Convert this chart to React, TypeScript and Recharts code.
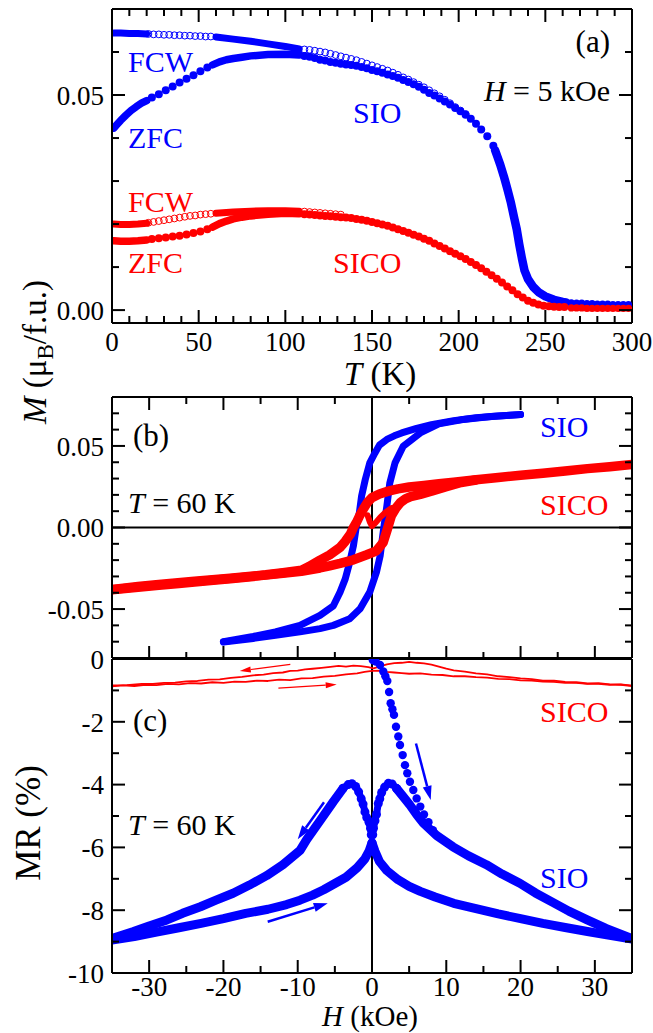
import React from 'react';
import { ComposedChart, Scatter, Line, XAxis, YAxis, ReferenceLine } from 'recharts';

const FONT = "'Liberation Serif', 'Times New Roman', 'DejaVu Serif', serif";
const BLUE = '#0000ff';
const RED = '#ff0000';
type P = [number, number];
const xy = (a: P[]) => a.map(([x, y]) => ({ x, y }));

// ---------- Panel (a): M vs T ----------
const aXTicks = [0,10,20,30,40,50,60,70,80,90,100,110,120,130,140,150,160,170,180,190,200,210,220,230,240,250,260,270,280,290,300];
const aXMajor = [0,50,100,150,200,250,300];
const aYTicks = [0,0.01,0.02,0.03,0.04,0.05,0.06];
const aYMajor = [0,0.05];

const sioFcwDense1: P[] = [[1,0.0644],[5,0.0644],[10,0.0643],[15,0.0643],[20,0.0642]];
const sioFcwOpen1: P[] = [[21,0.0642],[24,0.0641],[27,0.0641],[30,0.0640],[33,0.0640],[36,0.0639],[39,0.0639],[42,0.0638],[45,0.0638],[48,0.0637],[51,0.0637],[54,0.0636],[57,0.0636]];
const sioFcwDense2: P[] = [[60,0.0635],[70,0.0630],[80,0.0625],[90,0.0619],[100,0.0613],[108,0.0607]];
const sioFcwOpen2: P[] = [[111,0.0606],[114,0.0605],[117,0.0603],[120,0.0601],[123,0.0599],[126,0.0596],[129,0.0593],[132,0.0590],[135,0.0587],[138,0.0584],[141,0.0581],[144,0.0577],[147,0.0573],[150,0.0569],[153,0.0565],[156,0.0561],[159,0.0557],[162,0.0552],[165,0.0547],[168,0.0541],[171,0.0536],[174,0.0530],[177,0.0524],[180,0.0518],[183,0.0511],[186,0.0504],[189,0.0497],[192,0.0489],[195,0.0481],[198,0.0472],[201,0.0464],[204,0.0456]];

const sioZfcDense1: P[] = [[1,0.0423],[3,0.0432],[5,0.0441],[8,0.0453],[11,0.0464],[14,0.0473],[17,0.0481],[20,0.0487]];
const sioZfcDots1: P[] = [[23,0.0494],[27,0.0502],[31,0.0511],[35,0.0520],[39,0.0529],[43,0.0538],[47,0.0546],[51,0.0555],[55,0.0564]];
const sioZfcDense2: P[] = [[58,0.0570],[62,0.0577],[66,0.0582],[70,0.0585],[75,0.0588],[80,0.0591],[90,0.0594],[100,0.0595],[108,0.0593]];
const sioZfcDots2: P[] = [[111,0.0591],[114,0.0589],[117,0.0586],[120,0.0582],[123,0.0580],[126,0.0577],[129,0.0575],[132,0.0573],[135,0.0571],[138,0.0570],[141,0.0568],[144,0.0565],[147,0.0562],[150,0.0558],[153,0.0555],[156,0.0552],[159,0.0548],[162,0.0544],[165,0.0540],[168,0.0535],[171,0.0530],[174,0.0525],[177,0.0519],[180,0.0512],[183,0.0505],[186,0.0499],[189,0.0492],[192,0.0485],[195,0.0478],[198,0.0470],[201,0.0462],[204,0.0454],[207,0.0445],[210,0.0433],[213,0.0420],[216.5,0.0404],[220,0.0382]];
const sioZfcDense3: P[] = [[221,0.0372],[222.5,0.0355],[224,0.0338],[226,0.0312],[228,0.0283],[230,0.0252],[232,0.0215],[233.5,0.0188],[235,0.0152],[236.5,0.0120],[238,0.0092],[240,0.0072],[243,0.0054],[246,0.0042],[250,0.0032],[255,0.0024],[260,0.0019],[262,0.0018]];
const sioZfcDots3: P[] = [[265,0.0017],[268,0.0016],[271,0.0016],[274,0.0015],[277,0.0015],[280,0.0014],[283,0.0014],[286,0.0014],[289,0.0013],[292,0.0013],[295,0.0013],[298,0.0013]];

const sicoFcwDense1: P[] = [[1,0.0200],[5,0.0199],[10,0.0199],[15,0.0200],[20,0.0202]];
const sicoFcwOpen1: P[] = [[21,0.0203],[24,0.0205],[27,0.0207],[30,0.0209],[33,0.0211],[36,0.0213],[39,0.0215],[42,0.0217],[45,0.0219],[48,0.0220],[51,0.0222],[54,0.0223],[57,0.0224]];
const sicoFcwDense2: P[] = [[60,0.0225],[70,0.0228],[80,0.0230],[90,0.0231],[100,0.0231],[108,0.0230]];
const sicoFcwOpen2: P[] = [[111,0.0229],[114,0.0228],[117,0.0227],[120,0.0226],[123,0.0225],[126,0.0224],[129,0.0223],[132,0.0222]];

const sicoZfcDense1: P[] = [[1,0.0161],[5,0.0160],[10,0.0160],[15,0.0161],[20,0.0163]];
const sicoZfcDots1: P[] = [[23,0.0165],[27,0.0167],[31,0.0169],[35,0.0171],[39,0.0173],[43,0.0176],[47,0.0179],[51,0.0183],[55,0.0188]];
const sicoZfcDense2: P[] = [[58,0.0193],[62,0.0201],[66,0.0207],[70,0.0212],[75,0.0216],[80,0.0219],[90,0.0223],[100,0.0225],[108,0.0224]];
const sicoZfcDots2: P[] = [[111,0.0223],[114,0.0222],[117,0.0221],[120,0.0220],[123,0.0219],[126,0.0218],[129,0.0217],[132,0.0216],[135,0.0215],[138,0.0214],[141,0.0212],[144,0.0210],[147,0.0208],[150,0.0205],[153,0.0202],[156,0.0199],[159,0.0196],[162,0.0192],[165,0.0188],[168,0.0184],[171,0.0180],[174,0.0175],[177,0.0171],[180,0.0166],[183,0.0161],[186,0.0155],[189,0.0149],[192,0.0143],[195,0.0137],[198,0.0131],[201,0.0125],[204,0.0119],[207,0.0112],[210,0.0105],[213,0.0097],[216,0.0089],[219,0.0081],[222,0.0073],[225,0.0064],[228,0.0055],[231,0.0046],[234,0.0037],[237,0.0029],[240,0.0022],[243,0.0017],[246,0.0013],[249,0.0010],[252,0.0009],[255,0.0008],[258,0.0007],[261,0.0007]];
const sicoZfcDots3: P[] = [[265,0.0005],[268,0.0005],[271,0.0005],[274,0.0004],[277,0.0004],[280,0.0004],[283,0.0004],[286,0.0004],[289,0.0004],[292,0.0004],[295,0.0004],[298,0.0004]];

// ---------- Panel (b): M vs H ----------
const hTicks = [-30,-25,-20,-15,-10,-5,0,5,10,15,20,25,30];
const hMajor = [-30,-20,-10,0,10,20,30];
const bYTicks = [-0.07,-0.06,-0.05,-0.04,-0.03,-0.02,-0.01,0,0.01,0.02,0.03,0.04,0.05,0.06,0.07];
const bYMajor = [-0.05,0,0.05];

const bSioDown: P[] = [[20,0.0692],[17,0.0684],[14,0.0673],[11,0.0655],[8,0.0630],[6,0.0608],[4,0.0580],[3,0.0562],[2,0.0540],[1,0.0505],[0.4,0.0457],[-0.3,0.0396],[-0.9,0.0295],[-1.4,0.0193],[-1.7,0.0091],[-2.1,0.0010],[-2.5,-0.0112],[-3,-0.0213],[-3.6,-0.0315],[-4.3,-0.0396],[-5.2,-0.0480],[-7,-0.0539],[-9.7,-0.0600],[-13,-0.0640],[-16,-0.0668],[-20,-0.0700]];
const bSioUp: P[] = [[-20,-0.0702],[-16,-0.0680],[-13,-0.0660],[-9.7,-0.0640],[-7,-0.0620],[-5.2,-0.0600],[-3,-0.0560],[-1.6,-0.0498],[-0.3,-0.0396],[0.6,-0.0274],[1.1,-0.0173],[1.5,-0.0030],[2,0.0132],[2.4,0.0274],[3.1,0.0396],[4.2,0.0498],[6.5,0.0580],[9,0.0635],[12,0.0660],[16,0.0680],[20,0.0692]];
const bSicoDown: P[] = [[35,0.0386],[32,0.0372],[29,0.0361],[26,0.0346],[23,0.0333],[20,0.0320],[17,0.0307],[14,0.0293],[11,0.0278],[9,0.0268],[7,0.0258],[5,0.0248],[3.5,0.0237],[2.2,0.0223],[1,0.0205],[0,0.0183],[-0.6,0.0155],[-1.1,0.0118],[-1.6,0.0078],[-2.0,0.0040],[-2.5,0.0000],[-2.9,-0.0040],[-3.6,-0.0085],[-4.3,-0.0122],[-5,-0.0145],[-5.7,-0.0168],[-7,-0.0200],[-8.5,-0.0240],[-9.5,-0.0262],[-12,-0.0277],[-14.3,-0.0290],[-17,-0.0302],[-19.1,-0.0311],[-21.5,-0.0320],[-23.9,-0.0330],[-26.5,-0.0340],[-28.7,-0.0350],[-31.5,-0.0362],[-35,-0.0380]];
const bSicoUp: P[] = [[-35,-0.0382],[-31.5,-0.0366],[-28.7,-0.0354],[-26,-0.0343],[-23.9,-0.0334],[-21,-0.0322],[-19.1,-0.0314],[-16,-0.0300],[-14.3,-0.0292],[-12,-0.0281],[-9.5,-0.0268],[-7,-0.0248],[-5.7,-0.0235],[-4.3,-0.0220],[-2.5,-0.0198],[-0.7,-0.0167],[0.6,-0.0143],[1.5,-0.0092],[2.0,-0.0020],[2.6,0.0071],[3.2,0.0118],[3.8,0.0152],[4.5,0.0175],[5.2,0.0189],[6.5,0.0203],[8,0.0222],[10,0.0250],[12,0.0276],[14,0.0291]];
const bSicoVirgin: P[] = [[-0.6,0.0075],[-0.3,0.0035],[0,0.0008],[0.5,0.0030],[1.1,0.0062],[1.8,0.0092],[2.6,0.0118]];

// ---------- Panel (c): MR vs H ----------
const cYTicks = [-10,-9,-8,-7,-6,-5,-4,-3,-2,-1,0];
const cYMajor = [-10,-8,-6,-4,-2,0];

const cSicoDown: P[] = [[35,-0.86],[33.5,-0.82],[32,-0.81],[30.5,-0.77],[29,-0.78],[27.5,-0.74],[26,-0.73],[24.5,-0.69],[23,-0.69],[21.5,-0.64],[20,-0.62],[18.5,-0.58],[17,-0.55],[15.5,-0.49],[14,-0.46],[12.5,-0.40],[11,-0.36],[10,-0.31],[9,-0.24],[8,-0.18],[7,-0.14],[6,-0.12],[5,-0.09],[4,-0.12],[3,-0.13],[2,-0.17],[1,-0.24],[0.2,-0.30],[-0.5,-0.26],[-1.5,-0.23],[-2.5,-0.21],[-3.5,-0.24],[-4.5,-0.22],[-5.6,-0.25],[-6.8,-0.28],[-8,-0.31],[-9,-0.33],[-10,-0.37],[-11,-0.38],[-12,-0.43],[-13.3,-0.45],[-14.6,-0.50],[-16,-0.52],[-17.5,-0.57],[-19,-0.60],[-20.5,-0.65],[-22,-0.66],[-23.5,-0.70],[-25,-0.71],[-26.5,-0.75],[-28,-0.76],[-29.5,-0.79],[-31,-0.79],[-33,-0.83],[-35,-0.84]];
const cSicoUp: P[] = [[-35,-0.87],[-33.5,-0.84],[-32,-0.86],[-30.5,-0.82],[-29,-0.83],[-27.5,-0.79],[-26,-0.81],[-24.5,-0.77],[-23,-0.78],[-21.5,-0.74],[-20,-0.76],[-18.5,-0.72],[-17,-0.73],[-15.5,-0.69],[-14,-0.70],[-12.5,-0.66],[-11,-0.67],[-9.5,-0.62],[-8,-0.61],[-6.5,-0.56],[-5,-0.54],[-3.5,-0.49],[-2,-0.46],[-1,-0.41],[0,-0.38],[1,-0.37],[2,-0.41],[3,-0.43],[4,-0.45],[5,-0.47],[6.5,-0.46],[8,-0.50],[9.5,-0.51],[11,-0.55],[12.5,-0.55],[14,-0.58],[15.5,-0.59],[17,-0.63],[18.5,-0.64],[20,-0.68],[21.5,-0.69],[23,-0.72],[24.5,-0.73],[26,-0.76],[27.5,-0.76],[29,-0.79],[30.5,-0.79],[32,-0.82],[33.5,-0.81],[35,-0.85]];

const cSioDownA: P[] = [[35,-8.92],[32,-8.80],[29,-8.68],[26,-8.55],[23,-8.42],[20,-8.27],[17,-8.12],[14,-7.95],[11,-7.78],[8.5,-7.58],[6.5,-7.40],[5,-7.24],[3.5,-7.03],[2,-6.74],[1,-6.45],[0.4,-6.12],[0,-5.85]];
const cSioDownB: P[] = [[-0.1,-5.6],[-0.2,-5.39],[-0.4,-5.2],[-0.7,-5.05],[-0.95,-4.87],[-1.2,-4.62],[-1.45,-4.45],[-1.8,-4.23],[-2.2,-4.06],[-2.7,-3.97],[-3.2,-4.0],[-3.9,-4.12]];
const cSioDownC: P[] = [[-3.9,-4.12],[-5.2,-4.54],[-7,-5.15],[-8.8,-5.75],[-9.7,-6.1],[-12,-6.55],[-14.2,-6.9],[-16.5,-7.2],[-18.7,-7.46],[-21,-7.68],[-23.1,-7.89],[-25.5,-8.1],[-27.6,-8.31],[-30,-8.5],[-32.1,-8.68],[-35,-8.9]];
const cSioUpA: P[] = [[-35,-8.95],[-32,-8.84],[-29,-8.70],[-26,-8.56],[-23,-8.42],[-20,-8.27],[-17,-8.10],[-14,-7.97],[-11.5,-7.82],[-9.7,-7.68],[-8,-7.52],[-6.5,-7.35],[-5,-7.15],[-3.5,-6.95],[-2,-6.65],[-1,-6.38],[-0.4,-6.12],[0,-5.85]];
const cSioUpB: P[] = [[0.1,-5.6],[0.2,-5.39],[0.4,-5.15],[0.6,-4.95],[0.85,-4.6],[1.05,-4.45],[1.3,-4.25],[1.7,-4.08],[2.2,-3.96],[2.7,-3.98],[3.3,-4.12]];
const cSioUpC: P[] = [[3.3,-4.12],[4.2,-4.38],[5.1,-4.65],[6,-4.95],[6.9,-5.22],[8.7,-5.62],[10.9,-5.98],[13,-6.27],[15.4,-6.55],[17.5,-6.85],[19.9,-7.14],[22,-7.45],[24.4,-7.76],[26.5,-8.03],[28.9,-8.3],[31.5,-8.58],[35,-8.9]];
const cSioVirgin: P[] = [[0.1,-0.03],[0.5,-0.08],[1.08,-0.19],[1.52,-0.4],[1.8,-0.55],[2.06,-0.7],[2.3,-1.05],[2.51,-1.41],[2.75,-1.6],[2.96,-1.78],[3.23,-2.16],[3.54,-2.47],[3.77,-2.74],[4.13,-3.06],[4.44,-3.38],[4.75,-3.64],[5.11,-3.91],[5.56,-4.17],[6.01,-4.44],[6.5,-4.7],[7.0,-4.95],[7.6,-5.2],[8.2,-5.45]];

const cRedArrowUpper: P[] = [[-11.0,-0.17],[-17.8,-0.38]];
const cRedArrowLower: P[] = [[-12.6,-0.93],[-4.75,-0.81]];
const cBlueArrowRight: P[] = [[5.92,-2.69],[7.9,-4.49]];
const cBlueArrowLeft: P[] = [[-6.46,-4.56],[-10.0,-5.74]];
const cBlueArrowBottom: P[] = [[-14.04,-8.37],[-5.96,-7.78]];

// ---------- helpers ----------
type Side = 'left' | 'right' | 'top' | 'topUp' | 'bottom';
const isIn = (arr: number[], v: number) => arr.some((m) => Math.abs(m - v) < 1e-9);
const tstyle = { fontFamily: FONT };

const mkTick = (side: Side, majors: number[], labels: boolean, fmt: (v: number) => string = (v) => String(v), below = 28) =>
  (props: any) => {
    const { x, y, payload } = props;
    const v = Number(payload.value);
    const major = isIn(majors, v);
    const L = major ? 13 : 7;
    const s = { stroke: '#000', strokeWidth: 2 };
    let ln: any = null;
    let tx: any = null;
    if (side === 'left') {
      ln = <line x1={x} y1={y} x2={x + L} y2={y} {...s} />;
      if (labels && major) tx = <text x={x - 8} y={y} dy="0.36em" textAnchor="end" style={tstyle} fontSize={27} fill="#000">{fmt(v)}</text>;
    } else if (side === 'right') {
      ln = <line x1={x} y1={y} x2={x - L} y2={y} {...s} />;
    } else if (side === 'top') {
      ln = <line x1={x} y1={y} x2={x} y2={y + L} {...s} />;
    } else if (side === 'topUp') {
      ln = <line x1={x} y1={y} x2={x} y2={y - L} {...s} />;
    } else {
      ln = <line x1={x} y1={y} x2={x} y2={y - L} {...s} />;
      if (labels && major) tx = <text x={x} y={y + below} textAnchor="middle" style={tstyle} fontSize={27} fill="#000">{fmt(v)}</text>;
    }
    return <g>{ln}{tx}</g>;
  };

const axisLine = { stroke: '#000', strokeWidth: 2 };

const dot = (color: string, r: number) => (p: any) => <circle cx={p.cx} cy={p.cy} r={r} fill={color} />;
const ring = (color: string, r: number) => (p: any) => <circle cx={p.cx} cy={p.cy} r={r} fill="none" stroke={color} strokeWidth={1} />;

const arrowShape = (color: string, w: number, head: number, headW: number) => (p: any) => {
  const { x1, y1, x2, y2 } = p;
  const dx = x2 - x1, dy = y2 - y1;
  const len = Math.hypot(dx, dy) || 1;
  const ux = dx / len, uy = dy / len;
  const bx = x2 - ux * head, by = y2 - uy * head;
  const px = (-uy * headW) / 2, py = (ux * headW) / 2;
  return (
    <g>
      <line x1={x1} y1={y1} x2={bx} y2={by} stroke={color} strokeWidth={w} />
      <polygon points={`${x2},${y2} ${bx + px},${by + py} ${bx - px},${by - py}`} fill={color} />
    </g>
  );
};

const band = (data: P[], color: string, w: number) => (
  <Line data={xy(data)} dataKey="y" type="linear" stroke={color} strokeWidth={w} strokeLinecap="round" strokeLinejoin="round" dot={false} activeDot={false} isAnimationActive={false} />
);
const dots = (data: P[], shape: any) => (
  <Scatter data={xy(data)} dataKey="y" shape={shape} isAnimationActive={false} />
);

const seg = (a: P[]) => [{ x: a[0][0], y: a[0][1] }, { x: a[1][0], y: a[1][1] }];

function PanelA() {
  return (
    <ComposedChart width={653} height={400} margin={{ top: 0, right: 0, bottom: 0, left: 0 }}>
      <XAxis xAxisId={0} dataKey="x" type="number" domain={[0, 300]} allowDataOverflow ticks={aXTicks} interval={0} height={77} tickSize={0} tickMargin={0} tickLine={false} axisLine={axisLine} tick={mkTick('bottom', aXMajor, true)} />
      <XAxis xAxisId="t" orientation="top" dataKey="x" type="number" domain={[0, 300]} allowDataOverflow ticks={aXTicks} interval={0} height={9} tickSize={0} tickMargin={0} tickLine={false} axisLine={axisLine} tick={mkTick('top', aXMajor, false)} />
      <YAxis yAxisId={0} dataKey="y" type="number" domain={[-0.003, 0.07]} allowDataOverflow ticks={aYTicks} interval={0} width={112} tickSize={0} tickMargin={0} tickLine={false} axisLine={axisLine} tick={mkTick('left', aYMajor, true, (v) => v.toFixed(2))} />
      <YAxis yAxisId="r" orientation="right" dataKey="y" type="number" domain={[-0.003, 0.07]} allowDataOverflow ticks={aYTicks} interval={0} width={21} tickSize={0} tickMargin={0} tickLine={false} axisLine={axisLine} tick={mkTick('right', aYMajor, false)} />

      {band(sioFcwDense1, BLUE, 7)}
      {dots(sioFcwOpen1, ring(BLUE, 3.4))}
      {band(sioFcwDense2, BLUE, 7)}
      {dots(sioFcwOpen2, ring(BLUE, 3.4))}
      {band(sioZfcDense1, BLUE, 7.5)}
      {dots(sioZfcDots1, dot(BLUE, 4))}
      {band(sioZfcDense2, BLUE, 7.5)}
      {dots(sioZfcDots2, dot(BLUE, 4))}
      {band(sioZfcDense3, BLUE, 8.5)}
      {dots(sioZfcDots3, dot(BLUE, 3.6))}

      {band(sicoFcwDense1, RED, 7)}
      {dots(sicoFcwOpen1, ring(RED, 3.4))}
      {band(sicoFcwDense2, RED, 7)}
      {dots(sicoFcwOpen2, ring(RED, 3.4))}
      {band(sicoZfcDense1, RED, 7.5)}
      {dots(sicoZfcDots1, dot(RED, 4))}
      {band(sicoZfcDense2, RED, 7.5)}
      {dots(sicoZfcDots2, dot(RED, 4))}
      {dots(sicoZfcDots3, dot(RED, 3.6))}
    </ComposedChart>
  );
}

function PanelB() {
  return (
    <ComposedChart width={653} height={272} margin={{ top: 0, right: 0, bottom: 0, left: 0 }}>
      <XAxis xAxisId={0} dataKey="x" type="number" domain={[-35, 35]} allowDataOverflow ticks={hTicks} interval={0} height={1} tickSize={0} tickMargin={0} tickLine={false} axisLine={axisLine} tick={false} />
      <XAxis xAxisId="t" orientation="top" dataKey="x" type="number" domain={[-35, 35]} allowDataOverflow ticks={hTicks} interval={0} height={10} tickSize={0} tickMargin={0} tickLine={false} axisLine={axisLine} tick={mkTick('top', hMajor, false)} />
      <YAxis yAxisId={0} dataKey="y" type="number" domain={[-0.08, 0.08]} allowDataOverflow ticks={bYTicks} interval={0} width={112} tickSize={0} tickMargin={0} tickLine={false} axisLine={axisLine} tick={mkTick('left', bYMajor, true, (v) => v.toFixed(2))} />
      <YAxis yAxisId="r" orientation="right" dataKey="y" type="number" domain={[-0.08, 0.08]} allowDataOverflow ticks={bYTicks} interval={0} width={21} tickSize={0} tickMargin={0} tickLine={false} axisLine={axisLine} tick={mkTick('right', bYMajor, false)} />
      <ReferenceLine x={0} stroke="#000" strokeWidth={2} />
      <ReferenceLine y={0} stroke="#000" strokeWidth={2} />

      {band(bSioDown, BLUE, 7)}
      {band(bSioUp, BLUE, 7)}
      {band(bSicoDown, RED, 9.5)}
      {band(bSicoUp, RED, 9.5)}
      {band(bSicoVirgin, RED, 6)}
    </ComposedChart>
  );
}

function PanelC() {
  return (
    <ComposedChart width={653} height={403} margin={{ top: 16, right: 0, bottom: 0, left: 0 }}>
      <XAxis xAxisId={0} dataKey="x" type="number" domain={[-35, 35]} allowDataOverflow ticks={hTicks} interval={0} height={60} tickSize={0} tickMargin={0} tickLine={false} axisLine={axisLine} tick={mkTick('bottom', hMajor, true, (v) => String(v), 23)} />
      <XAxis xAxisId="t" orientation="top" dataKey="x" type="number" domain={[-35, 35]} allowDataOverflow ticks={hTicks} interval={0} height={13} tickSize={0} tickMargin={0} tickLine={false} axisLine={axisLine} tick={mkTick('topUp', hMajor, false)} />
      <YAxis yAxisId={0} dataKey="y" type="number" domain={[-10, 0]} allowDataOverflow ticks={cYTicks} interval={0} width={112} tickSize={0} tickMargin={0} tickLine={false} axisLine={axisLine} tick={mkTick('left', cYMajor, true)} />
      <YAxis yAxisId="r" orientation="right" dataKey="y" type="number" domain={[-10, 0]} allowDataOverflow ticks={cYTicks} interval={0} width={21} tickSize={0} tickMargin={0} tickLine={false} axisLine={axisLine} tick={mkTick('right', cYMajor, false)} />
      <ReferenceLine x={0} stroke="#000" strokeWidth={2} />

      {band(cSicoDown, RED, 1.8)}
      {band(cSicoUp, RED, 1.8)}
      <ReferenceLine segment={seg(cRedArrowUpper)} shape={arrowShape(RED, 1.2, 11, 6)} ifOverflow="visible" />
      <ReferenceLine segment={seg(cRedArrowLower)} shape={arrowShape(RED, 1.2, 11, 6)} ifOverflow="visible" />

      {band(cSioDownA, BLUE, 9)}
      {band(cSioDownB, BLUE, 7)}
      {band(cSioDownC, BLUE, 9)}
      {band(cSioUpA, BLUE, 9)}
      {band(cSioUpB, BLUE, 7)}
      {band(cSioUpC, BLUE, 9)}
      {dots(cSioDownB, dot(BLUE, 4.5))}
      {dots(cSioUpB, dot(BLUE, 4.5))}
      {dots(cSioVirgin, dot(BLUE, 4.2))}
      <ReferenceLine segment={seg(cBlueArrowRight)} shape={arrowShape(BLUE, 2.5, 14, 9)} ifOverflow="visible" />
      <ReferenceLine segment={seg(cBlueArrowLeft)} shape={arrowShape(BLUE, 2.5, 14, 9)} ifOverflow="visible" />
      <ReferenceLine segment={seg(cBlueArrowBottom)} shape={arrowShape(BLUE, 2.5, 14, 9)} ifOverflow="visible" />
    </ComposedChart>
  );
}

const ann = { style: tstyle, fontSize: 30 } as const;

export default function App() {
  return (
    <div style={{ position: 'absolute', left: 0, top: 0, width: 653, height: 1033, background: '#fff', overflow: 'hidden', fontFamily: FONT }}>
      <div style={{ position: 'absolute', left: 0, top: 0 }}><PanelA /></div>
      <div style={{ position: 'absolute', left: 0, top: 387 }}><PanelB /></div>
      <div style={{ position: 'absolute', left: 0, top: 630 }}><PanelC /></div>
      <svg width={653} height={1033} style={{ position: 'absolute', left: 0, top: 0, pointerEvents: 'none', fontFamily: FONT }}>
        {/* panel a */}
        <text x={610} y={52} textAnchor="end" {...ann} fontSize={31}>(a)</text>
        <text x={610} y={101} textAnchor="end" {...ann}><tspan fontStyle="italic">H</tspan> = 5 kOe</text>
        <text x={128} y={72} fill={BLUE} {...ann}>FCW</text>
        <text x={128} y={148} fill={BLUE} {...ann}>ZFC</text>
        <text x={353} y={123} fill={BLUE} {...ann}>SIO</text>
        <text x={128} y={212} fill={RED} {...ann}>FCW</text>
        <text x={128} y={273} fill={RED} {...ann}>ZFC</text>
        <text x={333} y={273} fill={RED} {...ann}>SICO</text>
        <text x={380} y={385} textAnchor="middle" style={tstyle} fontSize={33}><tspan fontStyle="italic">T</tspan> (K)</text>
        <text transform="translate(46,352) rotate(-90)" textAnchor="middle" style={tstyle} fontSize={33}>
          <tspan fontStyle="italic">M</tspan> (μ<tspan dy={7} fontSize={23}>B</tspan><tspan dy={-7}>/f.u.)</tspan>
        </text>
        {/* panel b */}
        <text x={133} y={446} {...ann} fontSize={31}>(b)</text>
        <text x={128} y={513} {...ann}><tspan fontStyle="italic">T</tspan> = 60 K</text>
        <text x={540} y={437} fill={BLUE} {...ann}>SIO</text>
        <text x={540} y={515} fill={RED} {...ann}>SICO</text>
        {/* panel c */}
        <text x={133} y={731} {...ann} fontSize={31}>(c)</text>
        <text x={128} y={835} {...ann}><tspan fontStyle="italic">T</tspan> = 60 K</text>
        <text x={540} y={722} fill={RED} {...ann}>SICO</text>
        <text x={540} y={888} fill={BLUE} {...ann}>SIO</text>
        <text x={370} y={1026} textAnchor="middle" style={tstyle} fontSize={29}><tspan fontStyle="italic">H</tspan> (kOe)</text>
        <text transform="translate(40,823) rotate(-90)" textAnchor="middle" style={tstyle} fontSize={35}>MR (%)</text>
      </svg>
    </div>
  );
}
